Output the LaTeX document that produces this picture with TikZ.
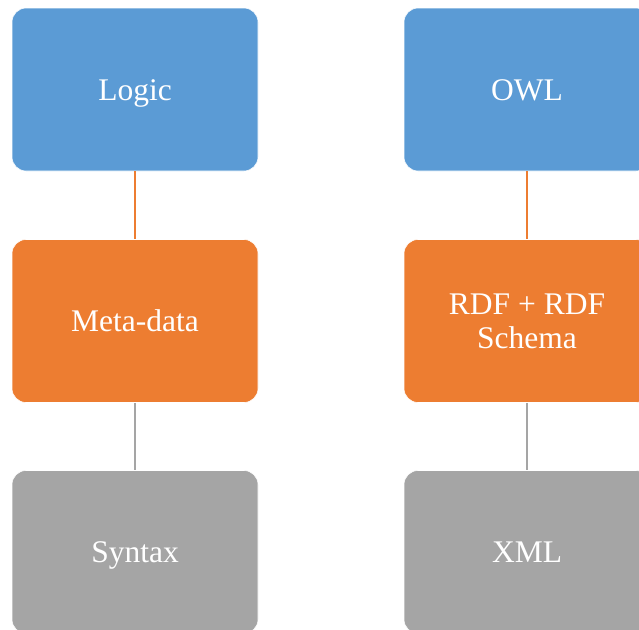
\documentclass[tikz,border=0pt]{standalone}
\usepackage{fontspec}
\setmainfont{Liberation Serif}
\definecolor{cblue}{HTML}{5B9BD5}
\definecolor{corange}{HTML}{ED7D31}
\definecolor{cgray}{HTML}{A5A5A5}
\begin{document}
\begin{tikzpicture}[x=1pt,y=-1pt,
  box/.style={rounded corners=14pt, draw=white, line width=0.6pt, minimum width=246pt, minimum height=163pt, inner sep=0pt, text=white, font=\fontsize{31.5}{34}\selectfont, align=center, text height=21pt, text depth=0pt},
  bluebox/.style={box, fill=cblue},
  orangebox/.style={box, fill=corange},
  graybox/.style={box, fill=cgray},
  link/.style={line width=2pt}]
\useasboundingbox (0,0) rectangle (639,629);
\begin{scope}
\clip (0,0) rectangle (639,629);
\node[bluebox] (logic) at (135,89.5) {Logic};
\node[orangebox] (meta) at (135,321) {Meta-data};
\node[graybox] (syntax) at (135,552) {Syntax};
\node[bluebox] (owl) at (527,89.5) {OWL};
\node[orangebox, text height=, text depth=] (rdf) at (527,321) {RDF + RDF\\Schema};
\node[graybox] (xml) at (527,552) {XML};
\draw[link, corange] (logic.south) -- (meta.north);
\draw[link, cgray] (meta.south) -- (syntax.north);
\draw[link, corange] (owl.south) -- (rdf.north);
\draw[link, cgray] (rdf.south) -- (xml.north);
\end{scope}
\end{tikzpicture}
\end{document}
